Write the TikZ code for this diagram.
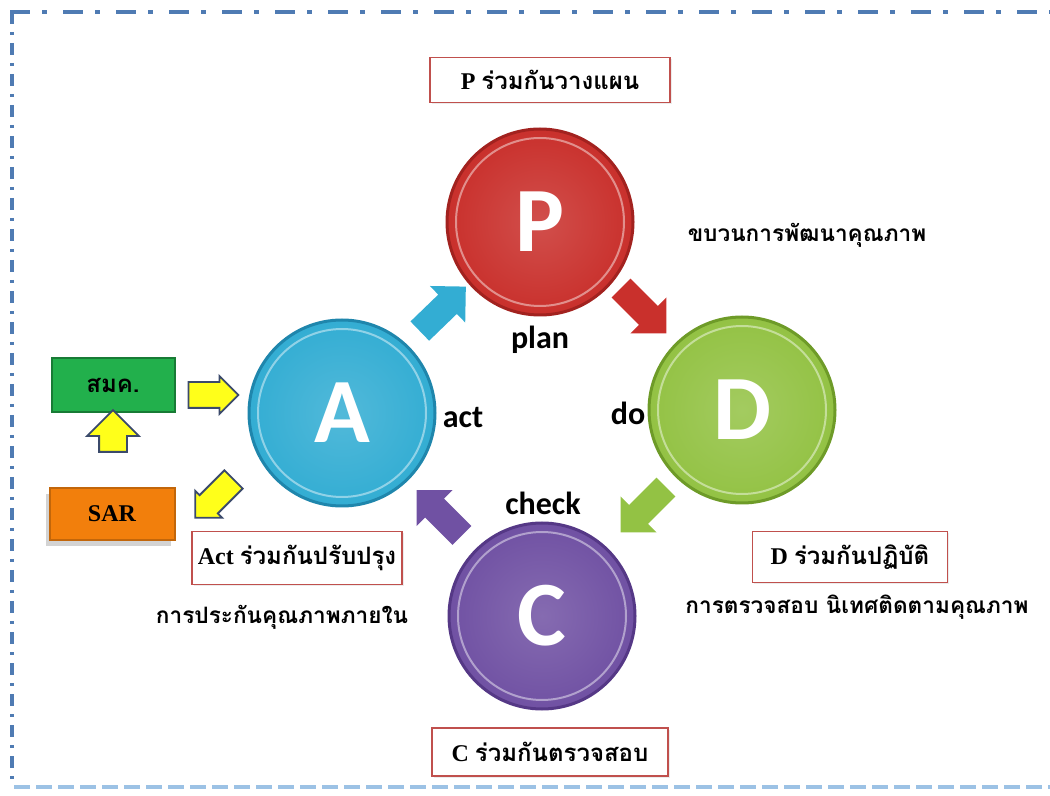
\documentclass[tikz,border=0pt]{standalone}
\usepackage{fontspec}
\setmainfont{Liberation Serif}
\newfontfamily\thaifont[Script=Thai]{Loma}
\newfontfamily\labelfont{Carlito}
\usetikzlibrary{shapes.arrows,shadows,calc,positioning}

\definecolor{framecol}{HTML}{4F7BB3}
\definecolor{framelight}{HTML}{9CC2E5}
\definecolor{boxred}{HTML}{C0504D}
\definecolor{pcol}{HTML}{C9302C}
\definecolor{pdark}{HTML}{A2221F}
\definecolor{acol}{HTML}{33ADD3}
\definecolor{adark}{HTML}{1F86AC}
\definecolor{dcol}{HTML}{93C244}
\definecolor{ddark}{HTML}{6E9B28}
\definecolor{ccol}{HTML}{7051A3}
\definecolor{cdark}{HTML}{553886}
\definecolor{smkgreen}{HTML}{22B04C}
\definecolor{sarorange}{HTML}{F27F0C}
\definecolor{arrowyellow}{HTML}{FFFF1A}
\definecolor{arrowline}{HTML}{3B4A6B}

\newcommand{\thai}[1]{{\thaifont\bfseries #1}}

\tikzset{
  ball/.style={circle, minimum size=93pt, inner sep=0pt, text=white,
    font=\labelfont\bfseries\fontsize{46}{46}\selectfont},
  steplabel/.style={font=\labelfont\bfseries\fontsize{16}{18}\selectfont},
  infobox/.style={draw=boxred, line width=0.7pt, fill=white, inner sep=0pt,
    font=\fontsize{12}{14}\selectfont\bfseries,
    drop shadow={opacity=0.15, shadow xshift=0.8pt, shadow yshift=-0.8pt}},
  note/.style={font=\fontsize{11.3}{14}\selectfont},
  cyclearrow/.style={single arrow, inner sep=6.5pt, minimum height=32pt,
    single arrow head extend=6pt},
  yellowarrow/.style={single arrow, fill=arrowyellow, draw=arrowline,
    line width=0.9pt, inner sep=6pt, single arrow head extend=3pt},
  frameline/.style={framecol, line width=1.6pt,
    dash pattern=on 10pt off 6pt on 2.5pt off 8pt}
}

\begin{document}
\begin{tikzpicture}[x=0.5pt, y=-0.5pt]
  \useasboundingbox (0,0) rectangle (1050,796);

  % frame
  \draw[frameline] (10,12) -- (1050,12);
  \draw[frameline, dash pattern=on 6pt off 4pt on 1.5pt off 4pt] (12,12) -- (12,786);
  \draw[framelight, line width=1.6pt, dash pattern=on 8pt off 3pt] (14,787) -- (1050,787);

  % the four circles
  \foreach \n/\x/\y/\c in {P/540/222/p, A/342/413/a, D/742/410/d, C/542/616/c} {
    \node[ball, shade, inner color=\c col!85!white, outer color=\c col] (circ\n) at (\x,\y) {\n};
    \draw[\c dark, line width=1.5pt] (circ\n.center) circle (46.5pt);
    \draw[white, opacity=0.45, line width=1pt] (circ\n.center) circle (42pt);
  }

  % arrows of the cycle
  \node[cyclearrow, fill=acol, rotate=44] (arrAP) at ($(circA)!0.5!(circP)+(-3,-4)$) {};
  \node[cyclearrow, fill=pcol, rotate=-45] (arrPD) at ($(circP)!0.5!(circD)+(-2,-10)$) {};
  \node[cyclearrow, fill=dcol, rotate=-135] (arrDC) at ($(circD)!0.5!(circC)+(6,-8)$) {};
  \node[cyclearrow, fill=ccol, rotate=135] (arrCA) at ($(circC)!0.5!(circA)+(2,3)$) {};

  % step words
  \node[steplabel] (plan) at (540,340) {plan};
  \node[steplabel] (act) at (463,418) {act};
  \node[steplabel] (do) at (628,413) {do};
  \node[steplabel] (check) at (543,503) {check};

  % boxes
  \node[infobox, minimum width=120pt, minimum height=22.5pt] (boxP) at (550,80)
    {P \thai{ร่วมกันวางแผน}};
  \node[infobox, minimum width=105pt, minimum height=26.5pt] (boxA) at (297,558)
    {Act \thai{ร่วมกันปรับปรุง}};
  \node[infobox, minimum width=97.5pt, minimum height=25.5pt] (boxD) at (850,557)
    {D \thai{ร่วมกันปฏิบัติ}};
  \node[infobox, minimum width=118pt, minimum height=24pt] (boxC) at (550,752)
    {C \thai{ร่วมกันตรวจสอบ}};

  % notes
  \node[note] (noteP) at (807,235) {\thai{ขบวนการพัฒนาคุณภาพ}};
  \node[note] (noteA) at (282,617) {\thai{การประกันคุณภาพภายใน}};
  \node[note] (noteD) at (857,607) {\thai{การตรวจสอบ นิเทศติดตามคุณภาพ}};

  % left side
  \node[fill=smkgreen, draw=smkgreen!70!black, line width=1pt, minimum width=61.5pt,
    minimum height=27pt, font=\fontsize{12}{14}\selectfont] (smk) at (113,385) {\thai{สมค.}};
  \node[fill=sarorange, draw=sarorange!80!black, line width=1pt, minimum width=62.5pt,
    minimum height=26pt, font=\fontsize{12}{14}\selectfont\bfseries,
    drop shadow={opacity=0.35, shadow xshift=-2pt, shadow yshift=-3pt}] (sar) at (112,514) {SAR};
  \node[yellowarrow, minimum height=25pt] (toA) at (207,395) {};
  \node[yellowarrow, minimum height=20pt, rotate=90, inner sep=6.5pt,
    single arrow head extend=6pt] (toSmk) at (113,438) {};
  \node[yellowarrow, minimum height=27pt, rotate=-135] (toSar) at (219,494) {};
\end{tikzpicture}
\end{document}
